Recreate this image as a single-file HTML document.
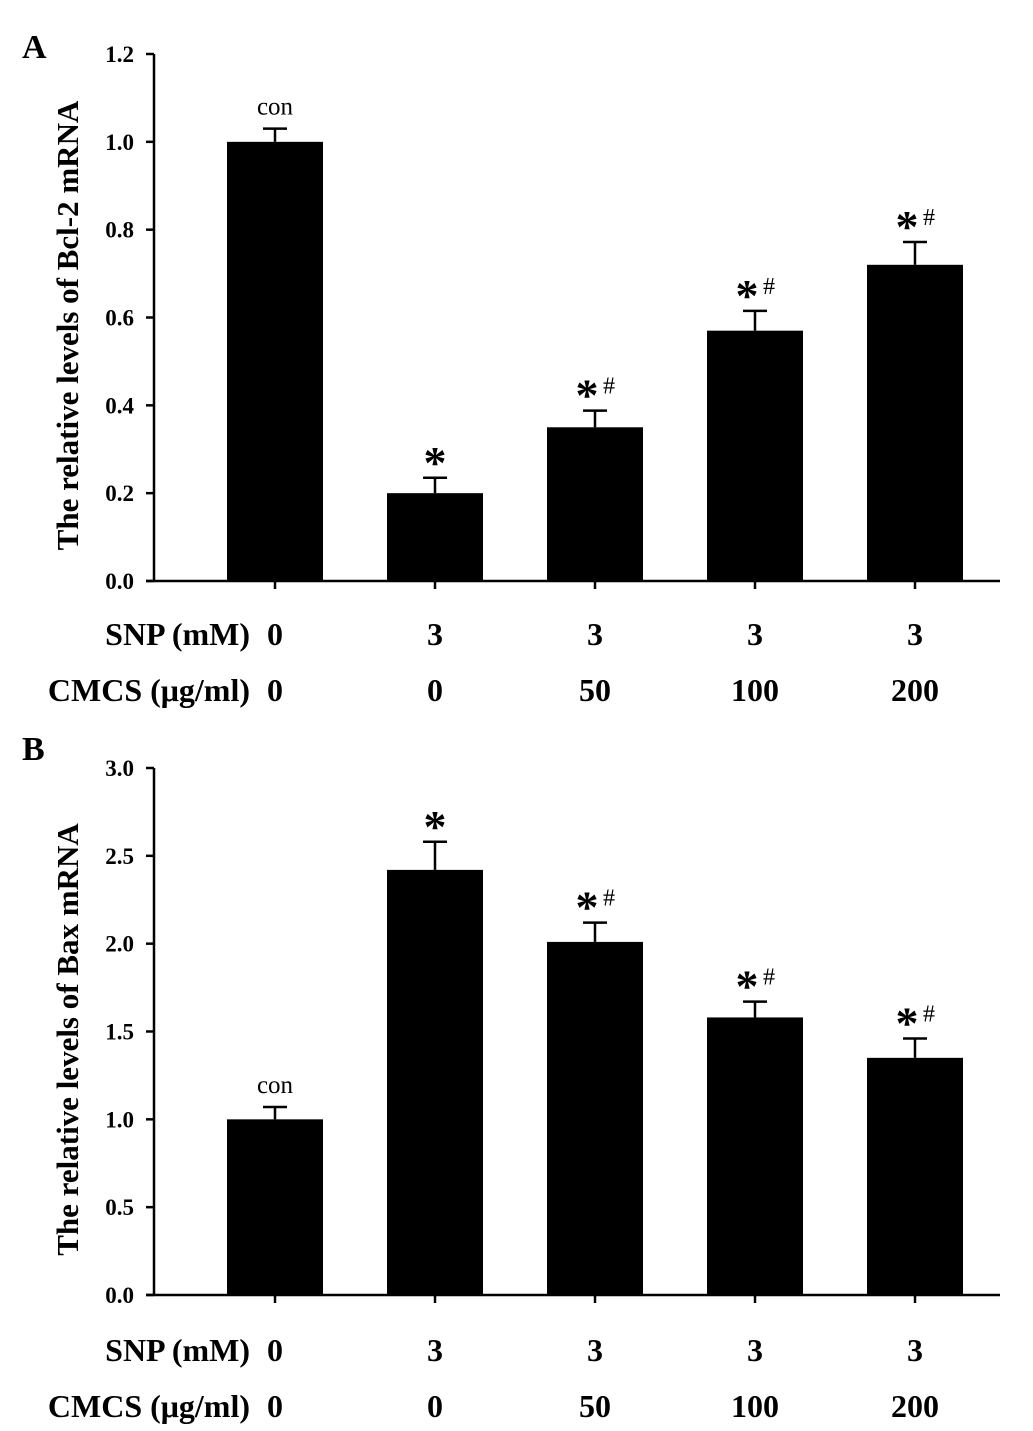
<!DOCTYPE html>
<html><head><meta charset="utf-8"><style>
body{margin:0;background:#fff}
svg{display:block;font-family:"Liberation Serif",serif}
</style></head><body>
<svg id="chart" width="1033" height="1431" viewBox="0 0 1033 1431" xmlns="http://www.w3.org/2000/svg"></svg>
<script>
const categories=["con","SNP","SNP+CMCS50","SNP+CMCS100","SNP+CMCS200"];
const snpLabels=["0","3","3","3","3"];
const cmcsLabels=["0","0","50","100","200"];
const bcl2Values=[1.0,0.2,0.35,0.57,0.72];
const bcl2Errors=[0.03,0.035,0.038,0.045,0.052];
const bcl2Marks=["con","*","*#","*#","*#"];
const bcl2Ticks=["0.0","0.2","0.4","0.6","0.8","1.0","1.2"];
const baxValues=[1.0,2.42,2.01,1.58,1.35];
const baxErrors=[0.07,0.16,0.11,0.09,0.11];
const baxMarks=["con","*","*#","*#","*#"];
const baxTicks=["0.0","0.5","1.0","1.5","2.0","2.5","3.0"];

const NS="http://www.w3.org/2000/svg";
const svg=document.getElementById('chart');
function mk(tag,attrs,parent){const e=document.createElementNS(NS,tag);for(const k in attrs)e.setAttribute(k,attrs[k]);(parent||svg).appendChild(e);return e;}

function panel(letter,letterY,y0,y1,ymax,ticks,values,errors,marks,title,rowY,prefix){
  const g=mk('g',{});
  
  
  const yS=v=>y0-(v/ymax)*(y0-y1);
  const xS=i=>275+i*160;
  const L=mk('text',{x:22,y:letterY,'font-size':34,'font-weight':'bold'},g);L.textContent=letter;
  
  
  const ax=mk('line',{x1:154,y1:y1,x2:154,y2:y0,stroke:'#000','stroke-width':2.5},g);
  
  
  const xa=mk('line',{x1:146,y1:y0,x2:1000,y2:y0,stroke:'#000','stroke-width':2.5},g);
  
  
  ticks.forEach(t=>{
    const y=yS(parseFloat(t));
    mk('line',{x1:146,y1:y,x2:154,y2:y,stroke:'#000','stroke-width':2.5},g);
    const tx=mk('text',{x:134,y:y+8,'font-size':23,'font-weight':'bold','text-anchor':'end'},g);tx.textContent=t;
    
    
  });
  const ty=(y0+y1)/2+8;
  const tt=mk('text',{x:0,y:0,'font-size':31,'font-weight':'bold','text-anchor':'middle',transform:`translate(78,${ty}) rotate(-90)`},g);tt.textContent=title;
  
  
  values.forEach((v,i)=>{
    const cx=xS(i),top=yS(v),et=yS(v+errors[i]);
    mk('line',{x1:cx,y1:y0,x2:cx,y2:y0+8,stroke:'#000','stroke-width':2.5},g);
    const b=mk('rect',{x:cx-48,y:top,width:96,height:y0-top,fill:'#000'},g);
    
    
    mk('line',{x1:cx,y1:top,x2:cx,y2:et,stroke:'#000','stroke-width':2.5},g);
    const eb=mk('line',{x1:cx-12,y1:et,x2:cx+12,y2:et,stroke:'#000','stroke-width':2.5},g);
    
    
    const m=marks[i];
    let a;
    if(m==='con'){a=mk('text',{x:cx,y:et-14,'font-size':25,'text-anchor':'middle'},g);a.textContent='con';}
    else if(m==='*'){
      a=mk('text',{x:cx,y:et,'font-size':46,'font-weight':'bold','text-anchor':'middle'},g);a.textContent='*';
    } else {
      a=mk('text',{x:cx-8,y:et,'font-size':46,'font-weight':'bold','text-anchor':'middle'},g);a.textContent='*';
      const h=mk('text',{x:cx+14,y:et-17,'font-size':24,'text-anchor':'middle'},g);h.textContent='#';
      
      
    }
    
    
    const s1=mk('text',{x:cx,y:rowY[0],'font-size':32,'font-weight':'bold','text-anchor':'middle'},g);s1.textContent=snpLabels[i];
    
    
    const s2=mk('text',{x:cx,y:rowY[1],'font-size':32,'font-weight':'bold','text-anchor':'middle'},g);s2.textContent=cmcsLabels[i];
    
    
  });
  const r1=mk('text',{x:250,y:rowY[0],'font-size':32,'font-weight':'bold','text-anchor':'end'},g);r1.textContent='SNP (mM)';
  
  
  const r2=mk('text',{x:250,y:rowY[1],'font-size':32,'font-weight':'bold','text-anchor':'end'},g);r2.textContent='CMCS (μg/ml)';
  
  
}
panel('A',58,581,54,1.2,bcl2Ticks,bcl2Values,bcl2Errors,bcl2Marks,'The relative levels of Bcl-2 mRNA',[645,701],'bcl2');
panel('B',760,1295,768,3.0,baxTicks,baxValues,baxErrors,baxMarks,'The relative levels of Bax mRNA',[1361,1417],'bax');
</script>
</body></html>
